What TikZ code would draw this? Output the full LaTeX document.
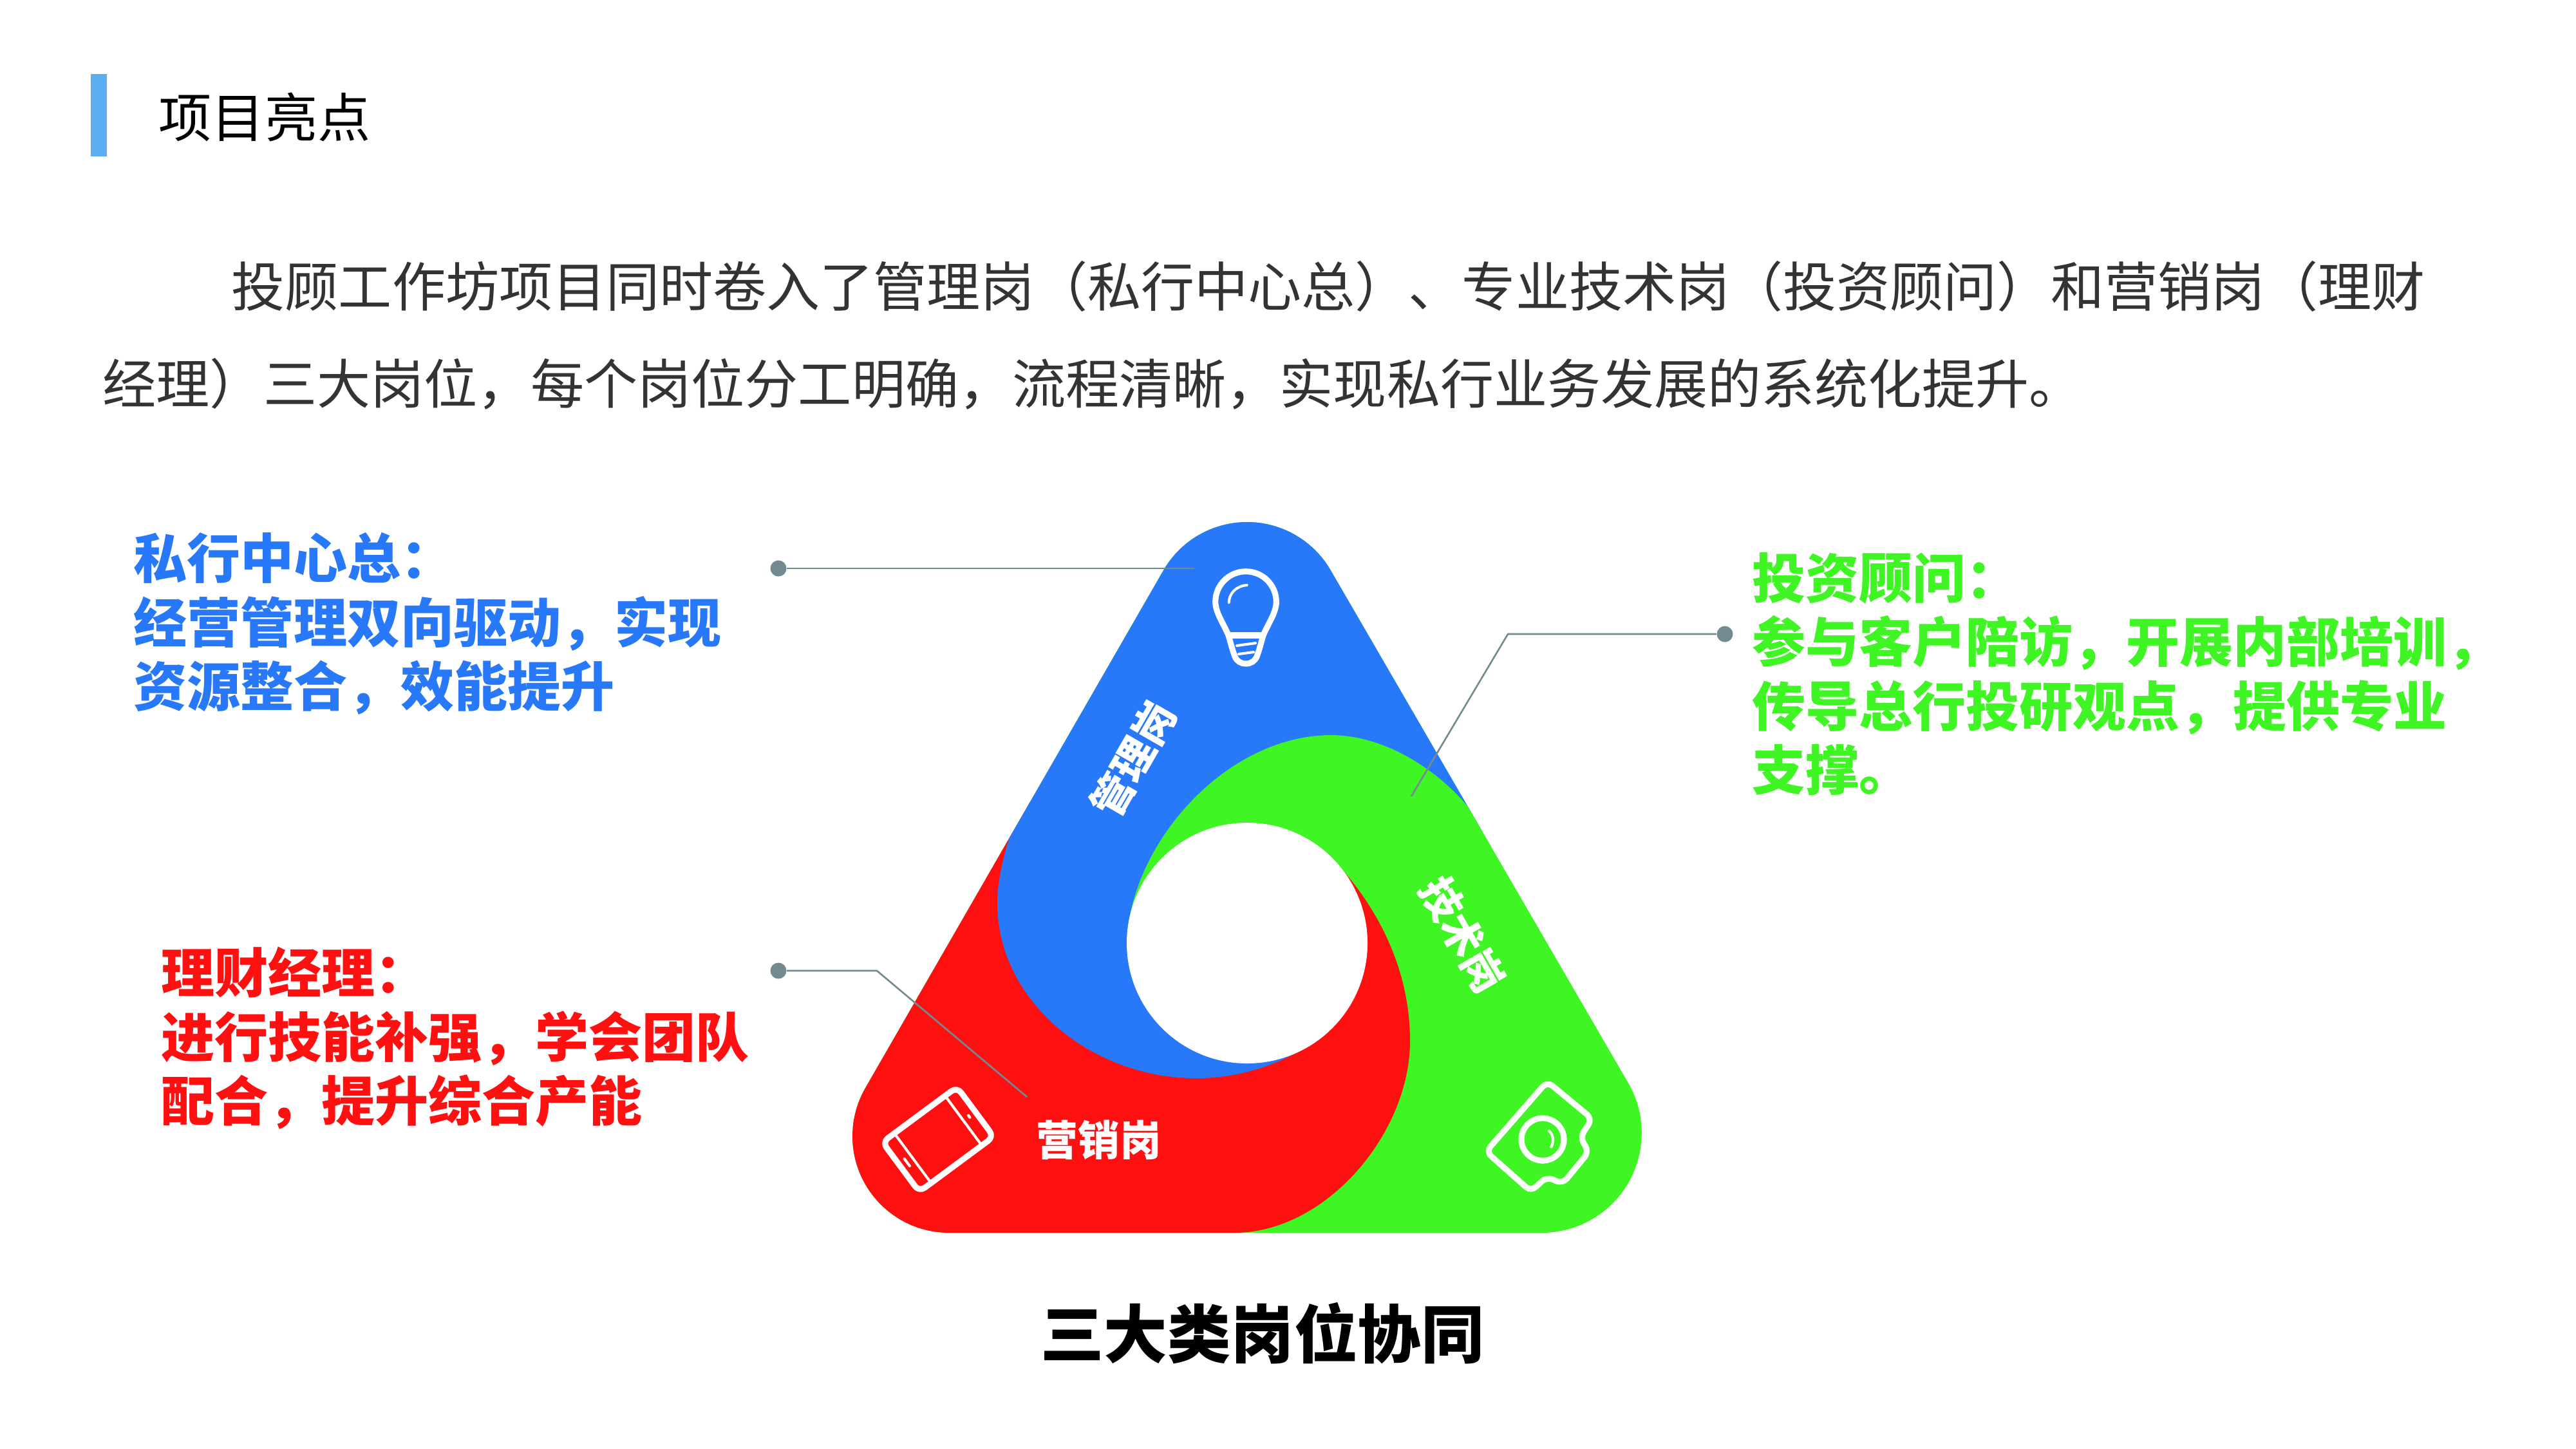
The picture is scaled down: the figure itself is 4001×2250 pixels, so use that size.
\documentclass[tikz,border=0pt]{standalone}
\usepackage{fontspec}
\newfontfamily\cjkfont{Noto Sans CJK SC}
\definecolor{roleblue}{HTML}{2878FA}
\definecolor{rolered}{HTML}{FF1010}
\definecolor{rolegreen}{HTML}{3FF523}
\definecolor{barblue}{HTML}{5CAEF2}
\definecolor{leadgrey}{HTML}{748A92}
\definecolor{bodygrey}{HTML}{333333}
\tikzset{
  headtext/.style={anchor=west,inner sep=0pt,text=black,font=\cjkfont\fontsize{23.4}{28}\selectfont},
  bodytext/.style={anchor=west,inner sep=0pt,text=bodygrey,font=\cjkfont\fontsize{23.63}{28}\selectfont},
  roletext/.style={anchor=west,inner sep=0pt,align=left,font=\cjkfont\bfseries\fontsize{23.6}{28.3}\selectfont},
  tagtext/.style={inner sep=0pt,text=white,font=\cjkfont\bfseries\fontsize{18.4}{20}\selectfont},
  leader/.style={draw=leadgrey,line width=.75pt},
  leaddot/.style={circle,fill=leadgrey,inner sep=0pt,minimum size=7.1pt},
  iconline/.style={draw=white,line width=2.6pt,line join=round},
  iconthin/.style={draw=white,line width=1.15pt,line cap=round},
}
\def\tripath{(1807,886) arc[start angle=210,end angle=330,radius=150] -- (2529,1682.5) arc[start angle=330,end angle=450,radius=155] -- (1474,1915) arc[start angle=90,end angle=210,radius=150] -- cycle}
\begin{document}
\begin{tikzpicture}[x=0.01cm,y=-0.01cm]
    \useasboundingbox (0,0) rectangle (4001,2250);
    \fill[white] (0,0) rectangle (4001,2250);
    \fill[barblue] (141,115) rectangle (166,243);
    \node[headtext] at (246,182) (head) {项目亮点};
    \node[bodytext] at (359,445) (bodya) {投顾工作坊项目同时卷入了管理岗（私行中心总）、专业技术岗（投资顾问）和营销岗（理财};
    \node[bodytext] at (159,596) (bodyb) {经理）三大岗位，每个岗位分工明确，流程清晰，实现私行业务发展的系统化提升。};
    % rounded triangle, one layer per role
    \begin{scope}
    \clip \tripath;
    \fill[rolegreen] (1300,780) rectangle (2600,1950);
    \fill[rolered] (2050,1315) .. controls (2125,1385) and (2190,1490) .. (2190,1617) .. controls (2190,1760) and (2060,1915) .. (1917,1915) -- (1300,1950) -- (1300,1200) -- cycle;
    \fill[roleblue] (1580,1265) .. controls (1560,1320) and (1549,1365) .. (1549,1403) .. controls (1549,1555) and (1695,1675) .. (1858,1675) .. controls (1930,1675) and (2000,1650) .. (2053,1610) -- (1937,1465) -- (2050,1315) -- (2600,1262) -- (2600,780) -- (1300,780) -- (1300,1265) -- cycle;
    \fill[rolegreen] (1750,1465) .. controls (1755,1310) and (1905,1142) .. (2067,1142) .. controls (2150,1142) and (2235,1195) .. (2288,1263) -- (2600,1240) -- (2600,1300) -- (2063,1328) -- (1937,1465) -- cycle;
    \end{scope}
    \fill[white] (1937,1465) circle [radius=187];
    % bulb
    \draw[iconline] (1887.7,935) arc[start angle=180,end angle=360,radius=47.3] .. controls (1982,952) and (1970,968) .. (1962,987) .. controls (1957,1005) and (1955,1012) .. (1952,1020) .. controls (1949,1027) and (1943,1031) .. (1935,1031) .. controls (1927,1031) and (1921,1027) .. (1918,1020) .. controls (1915,1012) and (1913,1005) .. (1908,987) .. controls (1900,968) and (1888,952) .. (1887.7,935) -- cycle;
    \draw[iconline] (1908,987) -- (1962,987);
    \draw[iconthin] (1921,1003) -- (1950,999);
    \draw[iconthin] (1924,1016) -- (1947,1013);
    \draw[iconthin] (1936.7,909) .. controls (1920,910) and (1909,922) .. (1908.7,936);
    % tablet
    \begin{scope}[shift={(1457,1770)},rotate=36.5]
    \draw[iconline,rounded corners=3pt] (-72,-48) rectangle (72,48);
    \draw[iconthin] (49,-48) -- (49,48);
    \draw[iconthin] (-49,-48) -- (-49,48);
    \draw[iconthin] (-60,-7) -- (-60,7);
    \draw[iconthin] (60,-2) -- (60,2);
    \end{scope}
    % camera
    \draw[iconline,rounded corners=3pt] (2403,1680) -- (2473,1738) -- (2454,1767) -- (2468,1789) -- (2427,1839) -- (2402,1828) -- (2378,1851) -- (2308,1789) -- cycle;
    \draw[iconline] (2396,1770) circle [radius=33];
    \draw[iconthin] (2406,1756.7) .. controls (2414,1765) and (2413,1775) .. (2409.3,1781.7);
    % tags
    \node[tagtext,rotate=60] at (1760,1179) (tagblue) {管理岗};
    \node[tagtext,rotate=-60] at (2272,1452) (taggreen) {技术岗};
    \node[tagtext] at (1707,1771) (tagred) {营销岗};
    % leaders
    \node[leaddot] at (1209,883) (dotblue) {};
    \node[leaddot] at (2679,985) (dotgreen) {};
    \node[leaddot] at (1209,1508) (dotred) {};
    \coordinate (endblue) at (1855,883);
    \coordinate (kneegreen) at (2342,985);
    \coordinate (endgreen) at (2192,1237);
    \coordinate (kneered) at (1362,1508);
    \coordinate (endred) at (1595,1704);
    \draw[leader] (dotblue) -- (endblue);
    \draw[leader] (dotgreen) -- (kneegreen) -- (endgreen);
    \draw[leader] (dotred) -- (kneered) -- (endred);
    % role texts
    \node[roletext,text=roleblue] at (207,969) (textblue) {私行中心总：\\经营管理双向驱动，实现\\资源整合，效能提升};
    \node[roletext,text=rolegreen] at (2721,1047) (textgreen) {投资顾问：\\参与客户陪访，开展内部培训，\\传导总行投研观点，提供专业\\支撑。};
    \node[roletext,text=rolered] at (250,1613) (textred) {理财经理：\\进行技能补强，学会团队\\配合，提升综合产能};
    \node[inner sep=0pt,text=black,font=\cjkfont\bfseries\fontsize{28}{32}\selectfont] at (1961,2071) (caption) {三大类岗位协同};
\end{tikzpicture}
\end{document}
